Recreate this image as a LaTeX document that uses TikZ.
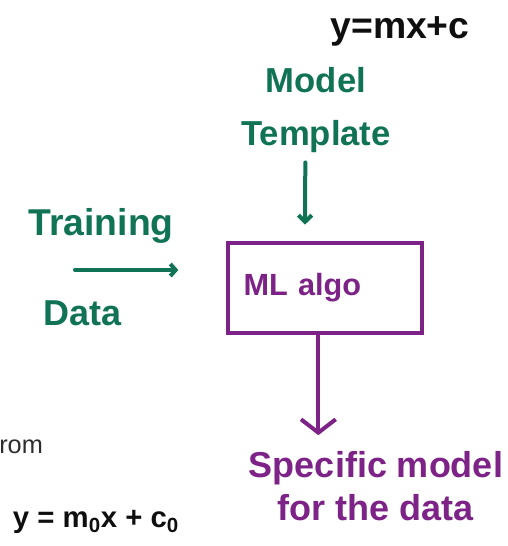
\documentclass[tikz,border=0pt]{standalone}
\usepackage{fontspec}
\setmainfont{Liberation Sans}
\usetikzlibrary{arrows.meta}

\definecolor{penblack}{RGB}{15,15,15}
\definecolor{pengreen}{RGB}{16,115,86}
\definecolor{penpurple}{RGB}{125,35,135}
\definecolor{printgray}{RGB}{45,45,45}

\begin{document}
\begin{tikzpicture}[x=0.75pt, y=-0.75pt,
		hand/.style={align=center, inner sep=0pt},
		greenpen/.style={pengreen, line width=3pt, line cap=round},
		purplepen/.style={penpurple, line width=3pt, line cap=round}]
		\useasboundingbox (0,0) rectangle (507,546);
		% equation at the top
		\node[hand, penblack, font=\bfseries\fontsize{28}{28}\selectfont] (eqn) at (400,31) {y=mx+c};
		% inputs
		\node[hand, pengreen, font=\bfseries\fontsize{26}{40}\selectfont] (template) at (316,110) {Model\\Template};
		\node[hand, pengreen, font=\bfseries\fontsize{28}{28}\selectfont] (training) at (101,226) {Training};
		\node[hand, pengreen, font=\bfseries\fontsize{27}{27}\selectfont] (data) at (83,313) {Data};
		% the algorithm
		\node[draw=penpurple, line width=3pt, penpurple, minimum width=145pt, minimum height=68pt,
			text width=122pt, align=left, inner sep=11pt, font=\bfseries\fontsize{23}{23}\selectfont] (mlalgo) at (325,288) {ML algo};
		% output
		\node[hand, penpurple, font=\bfseries\fontsize{27}{32}\selectfont] (specific) at (376,486) {Specific model\\for the data};
		% slide text behind
		\node[anchor=west, inner sep=0pt, printgray, font=\fontsize{19}{19}\selectfont] (rom) at (-1,447) {rom};
		\node[hand, penblack, font=\bfseries\fontsize{22}{22}\selectfont] (fitted) at (96,522) {y = m\textsubscript{0}x + c\textsubscript{0}};
		% arrows
		\coordinate (datain) at (75,270);
		\draw[greenpen, -{Straight Barb[length=5pt, width=10pt]}, shorten <=7pt, shorten >=12pt]
			([xshift=-8pt]template.south) -- ([xshift=-15pt]mlalgo.north);
		\draw[greenpen, -{Straight Barb[length=4pt, width=9pt]}, shorten >=36pt] (datain) -- (datain -| mlalgo.west);
		\draw[purplepen, -{Straight Barb[length=10pt, width=26pt]}, shorten >=12pt]
			([xshift=-5pt]mlalgo.south) -- ([xshift=-5pt]mlalgo.south |- specific.north);
	\end{tikzpicture}
\end{document}
